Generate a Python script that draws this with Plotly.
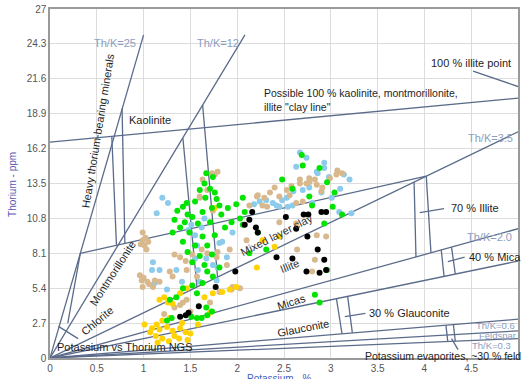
import plotly.graph_objects as go

# ---------------- data (K in %, Th in ppm) ----------------
k_blue = [1.20,1.26,1.14,1.10,1.09,1.52,1.51,1.55,1.57,1.55,1.58,1.60,1.35,1.41,1.25,1.12,1.79,1.78,1.67,1.89,
          1.81,2.24,2.38,2.45,1.95,1.84,1.74,2.53,2.59,2.85,3.22,3.09,2.67,2.74,2.93,2.93,2.86,3.14,2.63,2.42,
          2.48,2.54,2.77,2.90,3.01,3.20,1.65,1.17,2.31,2.70,2.60,2.80,3.10,2.98,1.48,1.62,2.18]
th_blue = [12.4,12.0,11.2,7.4,6.8,10.9,10.3,9.5,8.7,7.7,6.8,5.9,6.8,5.9,5.3,5.8,7.0,6.0,7.7,7.8,
           8.9,12.1,12.0,11.7,9.7,9.0,7.2,12.4,11.8,14.4,11.2,11.3,15.9,15.5,15.1,14.7,14.3,14.2,14.8,11.8,
           12.2,11.7,13.2,12.8,12.4,13.8,10.8,6.8,12.2,13.0,12.9,12.0,13.1,14.0,9.9,10.1,11.9]

k_tan = [0.99,1.01,1.03,0.99,1.02,0.96,0.98,0.99,1.04,1.10,1.31,1.28,1.33,1.39,1.60,1.74,1.46,1.62,1.68,1.78,
         1.46,1.39,1.33,1.95,2.03,1.71,1.63,1.73,1.76,1.79,1.68,1.60,2.21,2.29,2.13,2.32,2.67,2.74,2.27,2.45,
         2.63,2.64,2.83,2.80,2.10,1.89,1.94,1.81,2.22,2.45,2.53,2.67,2.77,2.85,3.06,3.12,2.63,2.70,2.85,2.95,
         1.92,1.79,3.07,2.77,2.83,2.91,2.99,2.56,1.17,1.50,1.05,0.97,1.00,1.06,1.12,1.52,1.45,1.57,2.35,2.40,
         2.58,2.90,1.42,1.22]
th_tan = [9.1,8.7,8.4,9.7,9.3,6.4,6.0,5.5,5.9,5.5,6.3,6.7,8.0,7.8,12.4,11.4,6.8,8.4,8.1,7.8,
          4.5,4.1,3.9,5.5,5.4,4.3,13.8,14.3,14.2,14.4,13.0,12.5,12.5,12.4,11.8,11.7,13.8,13.5,11.8,10.5,
          10.4,8.4,7.6,6.7,9.1,7.2,5.3,5.1,12.6,12.5,13.0,13.5,13.9,13.4,14.2,14.3,12.0,12.1,9.5,9.4,
          8.4,8.2,14.5,13.6,13.8,13.2,13.9,12.6,5.9,3.6,9.0,8.8,6.2,5.7,6.0,8.0,7.5,6.3,12.8,13.2,
          13.3,12.9,4.3,3.4]

k_green = [1.67,1.74,1.65,1.71,1.60,1.76,1.78,1.66,1.55,1.81,1.73,1.63,1.83,1.42,1.36,1.47,1.46,1.52,1.33,1.44,
           1.58,1.71,1.87,1.39,1.31,1.49,1.63,1.76,1.42,1.55,1.68,1.47,1.60,1.73,1.52,1.65,
           1.94,2.03,2.08,2.06,1.99,1.90,2.06,2.22,2.31,2.13,2.48,2.59,2.77,2.80,2.96,3.04,3.02,3.12,2.93,
           2.69,2.70,2.88,2.96,2.83,2.88,
           1.28,1.35,1.42,1.52,1.57,1.63,1.68,1.74,1.81,1.67,1.68,1.62,1.25,1.30,1.51,1.57,1.73]
th_green = [14.3,14.0,13.5,13.1,13.0,12.8,12.3,12.4,12.1,11.8,11.6,11.3,11.1,11.7,11.4,11.1,12.0,10.9,10.7,10.5,
            10.4,10.5,10.1,10.1,9.7,9.7,9.4,9.5,9.0,8.7,8.7,8.2,7.9,8.0,7.4,7.2,
            10.5,10.8,11.3,12.4,11.9,11.6,10.3,9.7,8.4,8.1,13.8,13.1,12.5,11.8,13.6,12.8,11.7,11.1,10.4,
            15.7,14.9,14.7,6.8,4.9,4.3,
            4.5,4.7,5.4,5.6,5.0,5.8,6.7,6.3,7.0,3.9,3.3,3.1,2.9,3.1,3.2,3.1,3.6]

k_yellow = [1.14,1.09,1.17,1.25,1.31,1.39,1.45,1.41,1.28,1.20,1.20,1.07,1.13,1.33,1.27,1.38,1.50,1.15,1.17,1.22,
            1.26,1.31,1.39,1.65,1.74,1.84,1.92,1.99,1.71,1.46,2.27,2.40,2.45,2.21,1.76,1.58,1.01,1.47]
th_yellow = [2.6,2.3,2.2,2.4,2.1,2.3,2.0,2.7,3.1,2.9,1.5,2.0,1.7,1.7,1.3,1.5,1.9,1.2,4.5,4.7,
             4.3,4.2,5.0,4.7,5.0,5.1,5.3,5.5,3.5,5.4,9.1,8.6,9.4,7.0,11.6,2.6,2.6,1.4]

k_black = [2.16,2.13,2.08,2.20,2.22,2.52,2.63,2.71,2.76,2.90,2.95,2.75,2.42,2.59,2.86,2.93,2.95,2.88,2.74,1.98,
           1.77,1.59,1.48,1.39,1.45]
th_black = [11.3,10.7,10.3,10.1,9.7,10.9,10.0,11.1,11.1,11.3,11.3,9.4,7.8,7.7,8.4,7.6,6.8,6.6,6.7,6.7,
            5.5,4.0,3.5,3.2,3.3]

# Th/K ratio lines from the origin (end points)
ratio_end_k = [1.0, 2.083, 5.0, 5.0, 5.0, 5.0, 5.0, 5.0]
ratio_end_th = [25.0, 25.0, 17.5, 10.0, 7.5, 3.0, 2.1, 1.5]

# other chart boundary segments: (K0, K1, Th0, Th1)
seg_k0 = [0.0, 4.52, 0.324, 0.66, 0.77, 1.42, 1.63, 0.324, 0.09, 3.89, 4.02, 3.95, 4.18, 4.29, 4.25, 3.06, 3.18, 3.15, 4.23, 4.31, 4.29]
seg_k1 = [5.0, 5.0, 4.02, 0.71, 0.80, 1.57, 1.79, 0.19, 0.30, 3.91, 4.07, 4.21, 4.21, 4.33, 4.43, 3.12, 3.23, 3.37, 4.25, 4.33, 4.36]
seg_t0 = [16.7, 22.2, 8.1, 17.15, 19.3, 17.0, 19.6, 8.1, 2.45, 13.6, 14.07, 11.25, 8.36, 8.58, 7.45, 4.59, 4.77, 3.2, 2.54, 2.59, 1.5]
seg_t1 = [20.1, 21.0, 14.07, 8.75, 8.86, 5.5, 6.27, 2.7, 1.5, 7.82, 8.14, 11.55, 6.32, 6.5, 7.8, 1.87, 1.94, 3.45, 1.27, 1.3, 0.65]

y_ticks = [0, 2.7, 5.4, 8.1, 10.8, 13.5, 16.2, 18.9, 21.6, 24.3, 27]
y_tick_text = ["0", "2.7", "5.4", "8.1", "10.8", "13.5", "16.2", "18.9", "21.6", "24.3", "27"]
x_ticks = [0, 0.5, 1, 1.5, 2, 2.5, 3, 3.5, 4, 4.5, 5]
x_tick_text = ["0", "0.5", "1", "1.5", "2", "2.5", "3", "3.5", "4", "4.5", "5"]

# ---------------- figure ----------------
LINE_COLOR = "#5b6b8a"
lx, ly = [], []
for ek, et in zip(ratio_end_k, ratio_end_th):
    lx += [0, ek, None]
    ly += [0, et, None]
for a, b, c, d in zip(seg_k0, seg_k1, seg_t0, seg_t1):
    lx += [a, b, None]
    ly += [c, d, None]

fig = go.Figure()
fig.add_trace(go.Scatter(x=lx, y=ly, mode="lines", line=dict(color=LINE_COLOR, width=1.3),
                         hoverinfo="skip", showlegend=False))

for kx, ty, col in [(k_blue, th_blue, "#8ccbeb"), (k_tan, th_tan, "#d8b98e"),
                    (k_yellow, th_yellow, "#ffd200"), (k_green, th_green, "#00e400"),
                    (k_black, th_black, "#000000")]:
    fig.add_trace(go.Scatter(x=kx, y=ty, mode="markers", showlegend=False,
                             marker=dict(color=col, size=6, line=dict(width=0))))

FONT = "Liberation Sans"
DARK = "#1e1e1e"
THK = "#8c9dbe"
ann = []
def add(text, x, y, angle=0, color=DARK, size=11, xanchor="center", align="center"):
    ann.append(dict(text=text, x=x, y=y, xref="x", yref="y", showarrow=False, textangle=angle,
                    xanchor=xanchor, yanchor="middle", align=align,
                    font=dict(family=FONT, size=size, color=color)))

add("Th/K=25", 0.69, 24.4, color=THK)
add("Th/K=12", 1.79, 24.4, color=THK)
add("Th/K=3.5", 4.71, 17.0, color=THK)
add("Th/K=2.0", 4.70, 9.4, color=THK)
add("Th/K=0.6", 4.76, 2.55, color=THK, size=9.5)
add("Feldspar", 4.78, 1.72, color=THK, size=9.5)
add("Th/K=0.3", 4.72, 0.98, color=THK, size=9.5)

add("Heavy thorium-bearing minerals", 0.506, 17.6, angle=-80.8)
add("Kaolinite", 1.07, 18.4)
add("Montmorillonite", 0.67, 6.6, angle=-57)
add("Chlorite", 0.5, 2.9, angle=-40)
add("Mixed layer clay", 2.42, 9.5, angle=-27, color="#333333")
add("Illite", 2.56, 7.1, angle=-22, color="#333333")
add("Micas", 2.58, 4.3, angle=-18)
add("Glauconite", 2.71, 2.3, angle=-11)
add("Possible 100 % kaolinite, montmorillonite,<br>illite \"clay line\"", 2.27, 19.95,
    xanchor="left", align="left", size=10.5)
add("100 % illite point", 4.05, 22.8, xanchor="left")
add("70 % Illite", 4.26, 11.6, xanchor="left")
add("40 % Mica", 4.46, 7.85, xanchor="left")
add("30 % Glauconite", 3.39, 3.48, xanchor="left")
add("Potassium evaporites, ~30 % feldspar", 3.34, 0.18, xanchor="left", size=10.5)
add("Potassium vs Thorium NGS", 0.05, 0.85, xanchor="left")

ann.append(dict(text="Thorium - ppm", x=-0.079, y=0.496, xref="paper", yref="paper", showarrow=False,
                textangle=-90, xanchor="center", yanchor="middle",
                font=dict(family=FONT, size=10, color="#5a56b0")))
ann.append(dict(text="Potassium - %", x=0.49, y=-0.06, xref="paper", yref="paper", showarrow=False,
                xanchor="center", yanchor="middle",
                font=dict(family=FONT, size=10, color="#3c62c0")))

fig.update_layout(
    width=521, height=379,
    margin=dict(l=50, r=1, t=9, b=21),
    paper_bgcolor="white", plot_bgcolor="white",
    annotations=ann,
    xaxis=dict(range=[0, 5], tickvals=x_ticks, ticktext=x_tick_text, showgrid=True,
               gridcolor="#dcdcdc", gridwidth=1, showline=True, linecolor="#9a9a9a", linewidth=2,
               mirror=True, zeroline=False, ticks="", tickfont=dict(family=FONT, size=10, color="#555555")),
    yaxis=dict(range=[0, 27], tickvals=y_ticks, ticktext=y_tick_text, showgrid=True,
               gridcolor="#dcdcdc", gridwidth=1, showline=True, linecolor="#9a9a9a", linewidth=1.5,
               mirror=True, zeroline=False, ticks="", tickfont=dict(family=FONT, size=10, color="#555555")),
)

fig.write_html("out.html")
